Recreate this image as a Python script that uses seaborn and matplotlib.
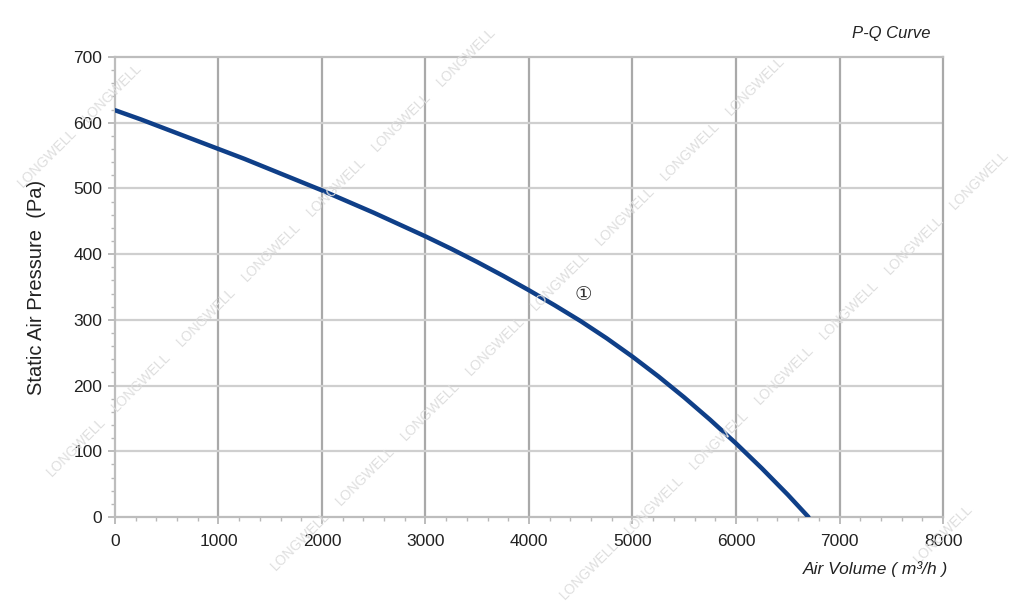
import matplotlib
matplotlib.use("Agg")
import matplotlib.pyplot as plt
import pandas as pd
import seaborn as sns
from matplotlib.ticker import MultipleLocator

# P-Q curve (every 250 m3/h)
air_volume = [0, 250, 500, 750, 1000, 1250, 1500, 1750, 2000, 2250, 2500, 2750, 3000,
              3250, 3500, 3750, 4000, 4250, 4500, 4750, 5000, 5250, 5500, 5750, 6000,
              6250, 6500, 6700]
static_pressure = [619, 605, 590, 575, 560, 545, 529, 513, 497, 480, 463, 445, 427,
                   408, 388, 367, 345, 322, 298, 272, 244, 214, 182, 148, 112,
                   74, 34, 0]
x_ticks = [0, 1000, 2000, 3000, 4000, 5000, 6000, 7000, 8000]
y_ticks = [0, 100, 200, 300, 400, 500, 600, 700]
curve_label = "\u2460"

LINE_COLOR = "#0f3f88"

sns.set_theme(style="white")
plt.rcParams["font.family"] = ["Liberation Sans", "DejaVu Sans", "Noto Sans CJK SC"]

df = pd.DataFrame({"q": air_volume, "p": static_pressure})

fig = plt.figure(figsize=(10.24, 6.03), dpi=100)
ax = fig.add_axes([0.1123, 0.1426, 0.8086, 0.7629])

# faint diagonal watermark, as in the source image
for c in range(205, 1800, 318):
    for k in range(-6, 14):
        px = c / 2 + 140 - 65 * k
        py = c - px
        if 30 < px < 990 and 40 < py < 575:
            fig.text(px / 1024, 1 - py / 603, "LONGWELL", rotation=45, color="#dedede",
                     fontsize=10, ha="center", va="center", zorder=0)

ax.set_facecolor("none")
sns.lineplot(data=df, x="q", y="p", ax=ax, color=LINE_COLOR, linewidth=3.2, zorder=5)

ax.set_xlim(0, 8000)
ax.set_ylim(0, 700)
ax.set_xticks(x_ticks)
ax.set_yticks(y_ticks)
ax.xaxis.set_minor_locator(MultipleLocator(200))
ax.yaxis.set_minor_locator(MultipleLocator(20))

ax.grid(False)
for xv in x_ticks[1:-1]:
    ax.axvline(xv, color="#a9a9a9", linewidth=1.6, zorder=1)
for yv in y_ticks[1:-1]:
    ax.axhline(yv, color="#cfcfcf", linewidth=1.6, zorder=1)

for side in ["left", "bottom", "top", "right"]:
    ax.spines[side].set_color("#bdbdbd")
    ax.spines[side].set_linewidth(1.6)
ax.spines["right"].set_color("#a9a9a9")

ax.tick_params(axis="both", which="major", direction="out", length=5, width=1.2,
               color="#b0b0b0", labelsize=12.5, labelcolor="#222222")
ax.tick_params(axis="x", which="major", pad=7)
ax.tick_params(axis="y", which="major", pad=4)
ax.tick_params(axis="both", which="minor", direction="out", length=3, width=1,
               color="#b8b8b8")
ax.tick_params(axis="x", which="both", bottom=True)
ax.tick_params(axis="y", which="both", left=True)

ax.set_xlabel("")
ax.set_ylabel("Static Air Pressure  (Pa)", fontsize=14.5, color="#222222", labelpad=20)

ax.text(4520, 338, curve_label, fontsize=14, color="#333333", ha="center", va="center",
        family=["DejaVu Serif", "DejaVu Sans", "Noto Sans CJK SC"], zorder=6)

fig.text(0.926, 0.057, "Air Volume ( m\u00b3/h )", style="italic", fontsize=12.5,
         color="#222222", ha="right", va="center")
fig.text(0.909, 0.944, "P-Q Curve", style="italic", fontsize=12,
         color="#222222", ha="right", va="center")

fig.savefig("out.png", dpi=100, facecolor="white")
